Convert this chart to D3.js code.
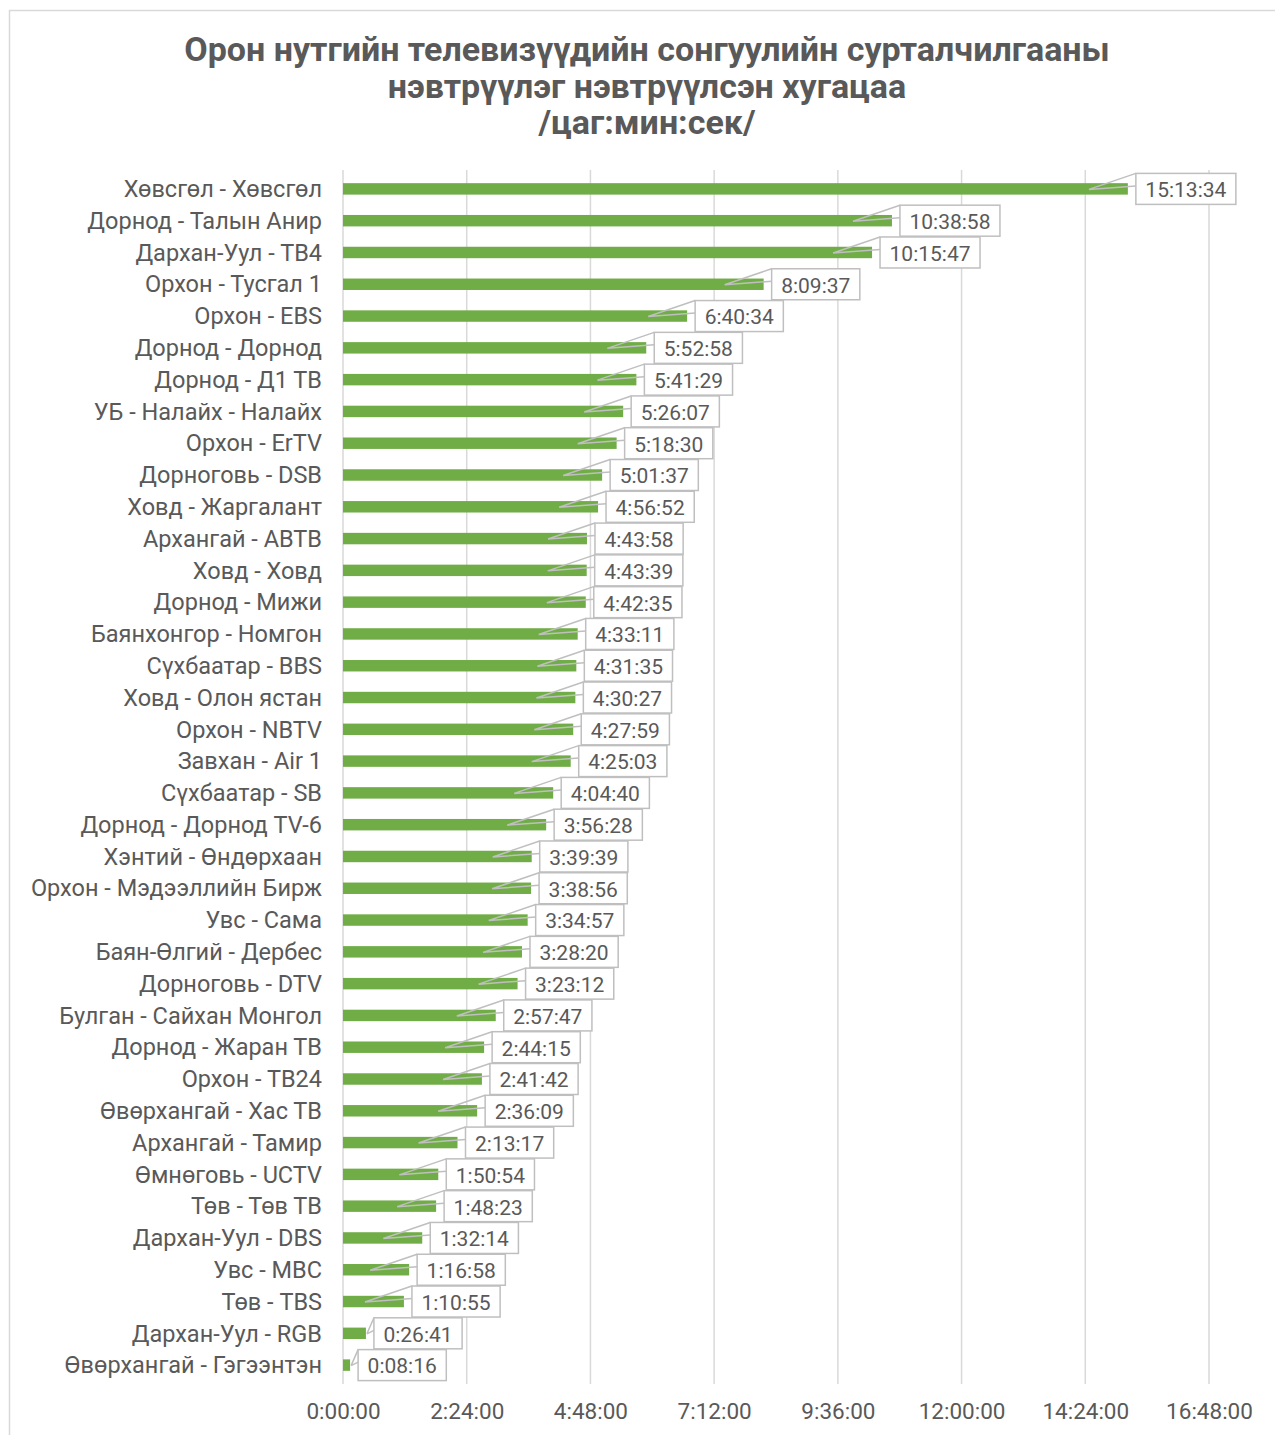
<!DOCTYPE html>
<html><head><meta charset="utf-8">
<script src="https://cdn.jsdelivr.net/npm/d3@7"></script>
<style>body{margin:0;background:#fff}svg{display:block}</style>
</head><body><svg id="c" width="1275" height="1435"></svg>
<script>
const categories = ["Хөвсгөл - Хөвсгөл","Дорнод - Талын Анир","Дархан-Уул - ТВ4","Орхон - Тусгал 1","Орхон - EBS","Дорнод - Дорнод","Дорнод - Д1 ТВ","УБ - Налайх - Налайх","Орхон - ErTV","Дорноговь - DSB","Ховд - Жаргалант","Архангай - АВТВ","Ховд - Ховд","Дорнод - Мижи","Баянхонгор - Номгон","Сүхбаатар - BBS","Ховд - Олон ястан","Орхон - NBTV","Завхан - Air 1","Сүхбаатар - SB","Дорнод - Дорнод TV-6","Хэнтий - Өндөрхаан","Орхон - Мэдээллийн Бирж","Увс - Сама","Баян-Өлгий - Дербес","Дорноговь - DTV","Булган - Сайхан Монгол","Дорнод - Жаран ТВ","Орхон - ТВ24","Өвөрхангай - Хас ТВ","Архангай - Тамир","Өмнөговь - UCTV","Төв - Төв ТВ","Дархан-Уул - DBS","Увс - MBC","Төв - TBS","Дархан-Уул - RGB","Өвөрхангай - Гэгээнтэн"];
const durations = ["15:13:34","10:38:58","10:15:47","8:09:37","6:40:34","5:52:58","5:41:29","5:26:07","5:18:30","5:01:37","4:56:52","4:43:58","4:43:39","4:42:35","4:33:11","4:31:35","4:30:27","4:27:59","4:25:03","4:04:40","3:56:28","3:39:39","3:38:56","3:34:57","3:28:20","3:23:12","2:57:47","2:44:15","2:41:42","2:36:09","2:13:17","1:50:54","1:48:23","1:32:14","1:16:58","1:10:55","0:26:41","0:08:16"];
const tickLabels = ["0:00:00","2:24:00","4:48:00","7:12:00","9:36:00","12:00:00","14:24:00","16:48:00"];
const titleLines = ["Орон нутгийн телевизүүдийн сонгуулийн сурталчилгааны","нэвтрүүлэг нэвтрүүлсэн хугацаа","/цаг:мин:сек/"];

const toSec = s => { const p = s.split(":").map(Number); return p[0]*3600 + p[1]*60 + p[2]; };
const data = categories.map((c,i)=>({cat:c, label:durations[i], v:toSec(durations[i])}));
const tickVals = tickLabels.map(toSec);

const svg = d3.select("#c");
const font = "Roboto, 'Liberation Sans', Arial, sans-serif";

// chart border
svg.append("rect").attr("x",9.5).attr("y",10.5).attr("width",1300).attr("height",1450)
  .attr("fill","#fff").attr("stroke","#d9d9d9").attr("stroke-width",1.5);

// title
svg.append("g").selectAll("text").data(titleLines).join("text")
  .attr("x",647).attr("y",(d,i)=>61+i*36.5).attr("text-anchor","middle")
  .attr("font-family",font).attr("font-weight","bold").attr("font-size",34)
  .attr("fill","#595959").text(d=>d);

const x = d3.scaleLinear().domain([0, d3.max(tickVals)]).range([343, 1209]);
const y = d3.scaleBand().domain(categories).range([173, 1381]).paddingInner(0.64).paddingOuter(0.32);

// gridlines
svg.append("g").selectAll("line").data(tickVals).join("line")
  .attr("x1",d=>x(d)).attr("x2",d=>x(d)).attr("y1",170).attr("y2",1384)
  .attr("stroke","#d9d9d9").attr("stroke-width",1.5);

// x axis labels
const xAxis = d3.axisBottom(x).tickValues(tickVals).tickFormat((d,i)=>tickLabels[i]).tickSize(0).tickPadding(0);
const gx = svg.append("g").attr("transform","translate(0,1419)").call(xAxis);
gx.select(".domain").remove();
gx.selectAll("text").attr("font-family",font).attr("font-size",22.5).attr("fill","#595959").attr("dy",0);

// y axis labels
const yAxis = d3.axisLeft(y).tickSize(0).tickPadding(0);
const gy = svg.append("g").attr("transform","translate(322,0)").call(yAxis);
gy.select(".domain").remove();
gy.selectAll("text").attr("font-family",font).attr("font-size",23.5).attr("fill","#595959").attr("dy","0.35em");

// bars
svg.append("g").selectAll("rect").data(data).join("rect")
  .attr("x",x(0)).attr("y",d=>y(d.cat)).attr("height",y.bandwidth())
  .attr("width",d=>x(d.v)-x(0)).attr("fill","#70ad47");

// callouts
const cg = svg.append("g");
data.forEach(d=>{
  const cy = y(d.cat) + y.bandwidth()/2;
  const end = x(d.v);
  const len = end - x(0);
  const tipX = len > 45 ? end - 39 : end + 1;
  const t = cg.append("text").attr("font-family",font).attr("font-size",21).attr("fill","#595959")
    .attr("text-anchor","middle").attr("dy","0.35em").text(d.label);
  const w = t.node().getComputedTextLength() + 19;
  const bl = end + 8, bt = cy - 15.5, bh = 31;
  cg.insert("path", "text:last-child")
    .attr("d",`M${tipX},${cy+0.5} L${bl},${bt} M${tipX},${cy+0.5} L${bl},${cy-3}`)
    .attr("stroke","#bfbfbf").attr("stroke-width",1.5).attr("fill","none");
  cg.insert("rect", "text:last-child").attr("x",bl).attr("y",bt).attr("width",w).attr("height",bh)
    .attr("fill","#fff").attr("stroke","#bfbfbf").attr("stroke-width",1.5);
  t.attr("x",bl+w/2).attr("y",cy+1);
});
</script></body></html>
